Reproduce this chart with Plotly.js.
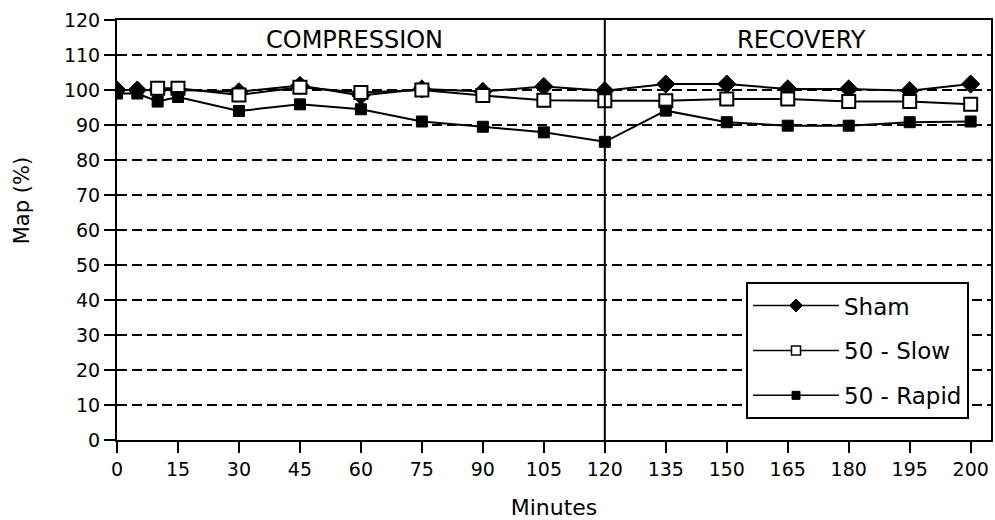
<!DOCTYPE html>
<html>
<head>
<meta charset="utf-8">
<script src="https://cdn.plot.ly/plotly-3.0.1.min.js"></script>
<style>html,body{margin:0;padding:0;background:#fff}#chart{width:995px;height:520px}</style>
</head>
<body>
<div id="chart"></div>
<script>
// Data (minutes; the last point sits at the tick labelled "200")
const minutes = [0, 5, 10, 15, 30, 45, 60, 75, 90, 105, 120, 135, 150, 165, 180, 195, 210];
const sham    = [100, 100, 100, 100, 99.5, 101.3, 98.4, 100.3, 99.6, 101, 99.8, 101.7, 101.7, 100.3, 100.3, 99.8, 101.7];
const slow    = [null, null, 100.5, 100.5, 98.6, 100.8, 99.3, 100, 98.4, 97.1, 96.9, 96.9, 97.4, 97.4, 96.7, 96.7, 95.9];
const rapid   = [99, 99, 96.7, 98, 94, 95.9, 94.5, 91, 89.5, 87.9, 85.2, 94.1, 90.8, 89.8, 89.8, 90.8, 91];
const seriesNames = ["Sham", "50 - Slow", "50 - Rapid"];
const xTickVals = [0, 15, 30, 45, 60, 75, 90, 105, 120, 135, 150, 165, 180, 195, 210];
const xTickText = ["0", "15", "30", "45", "60", "75", "90", "105", "120", "135", "150", "165", "180", "195", "200"];
const yTickVals = [0, 10, 20, 30, 40, 50, 60, 70, 80, 90, 100, 110, 120];
const phaseLabels = ["COMPRESSION", "RECOVERY"];
const phaseCenters = [58.5, 168.5];
const phaseBoundary = 120;

const FONT = "DejaVu Sans, Arial, sans-serif";

const styles = [
  {symbol: "diamond", size: 14, legSize: 10, color: "#000", lw: 1},
  {symbol: "square", size: 13, legSize: 9, color: "#fff", lw: 2},
  {symbol: "square", size: 11, legSize: 8, color: "#000", lw: 1}
];
const series = [sham, slow, rapid];

const traces = [];
series.forEach((ys, i) => {
  traces.push({x: minutes, y: ys, name: seriesNames[i], mode: "lines+markers", showlegend: false,
    line: {color: "#000", width: 2},
    marker: {symbol: styles[i].symbol, size: styles[i].size, color: styles[i].color,
             line: {color: "#000", width: styles[i].lw}}});
});
// legend entries (smaller symbols, as in the reference legend)
series.forEach((ys, i) => {
  traces.push({x: [null], y: [null], name: seriesNames[i], mode: "lines+markers", legendgroup: "g" + i,
    line: {color: "#000", width: 1.5},
    marker: {symbol: styles[i].symbol, size: styles[i].legSize, color: styles[i].color,
             line: {color: "#000", width: i === 1 ? 1.5 : 1}}});
});

const layout = {
  width: 995, height: 520,
  margin: {l: 117, r: 4, t: 20, b: 80},
  paper_bgcolor: "#fff", plot_bgcolor: "#fff",
  font: {family: FONT, color: "#000", size: 19},
  showlegend: true,
  legend: {
    x: 0.7197, y: 0.376, xanchor: "left", yanchor: "top",
    bgcolor: "#fff", bordercolor: "#000", borderwidth: 2,
    font: {family: FONT, size: 23, color: "#000"},
    tracegroupgap: 12, itemwidth: 86
  },
  xaxis: {
    range: [0, 215], tickmode: "array", tickvals: xTickVals, ticktext: xTickText,
    showgrid: false, zeroline: false,
    showline: true, linecolor: "#000", linewidth: 2, mirror: true,
    ticks: "outside", ticklen: 11, tickwidth: 2, tickcolor: "#000",
    tickfont: {family: FONT, size: 19, color: "#000"},
    title: {text: "Minutes", font: {family: FONT, size: 22, color: "#000"}, standoff: 22}
  },
  yaxis: {
    range: [0, 120], tickmode: "array", tickvals: yTickVals,
    ticksuffix: "\u2002",
    showgrid: true, gridcolor: "#000", gridwidth: 2, griddash: "10px,5px",
    zeroline: false,
    showline: true, linecolor: "#000", linewidth: 2, mirror: true,
    ticks: "outside", ticklen: 11, tickwidth: 2, tickcolor: "#000",
    tickfont: {family: FONT, size: 19, color: "#000"}
  },
  shapes: [
    {type: "line", xref: "x", yref: "paper", x0: phaseBoundary, x1: phaseBoundary, y0: 0, y1: 1,
     line: {color: "#000", width: 2}, layer: "above"}
  ],
  annotations: phaseLabels.map((t, i) => ({
    text: t, x: phaseCenters[i], xref: "x", y: 114.4, yref: "y",
    showarrow: false, font: {family: FONT, size: 24, color: "#000"}
  })).concat([{
    text: "Map (%)", textangle: -90, xref: "paper", x: -0.1087, xanchor: "center",
    yref: "y", y: 68.5, yanchor: "middle", showarrow: false,
    font: {family: FONT, size: 21, color: "#000"}
  }])
};

Plotly.newPlot("chart", traces, layout, {displayModeBar: false, staticPlot: true});
</script>
</body>
</html>
